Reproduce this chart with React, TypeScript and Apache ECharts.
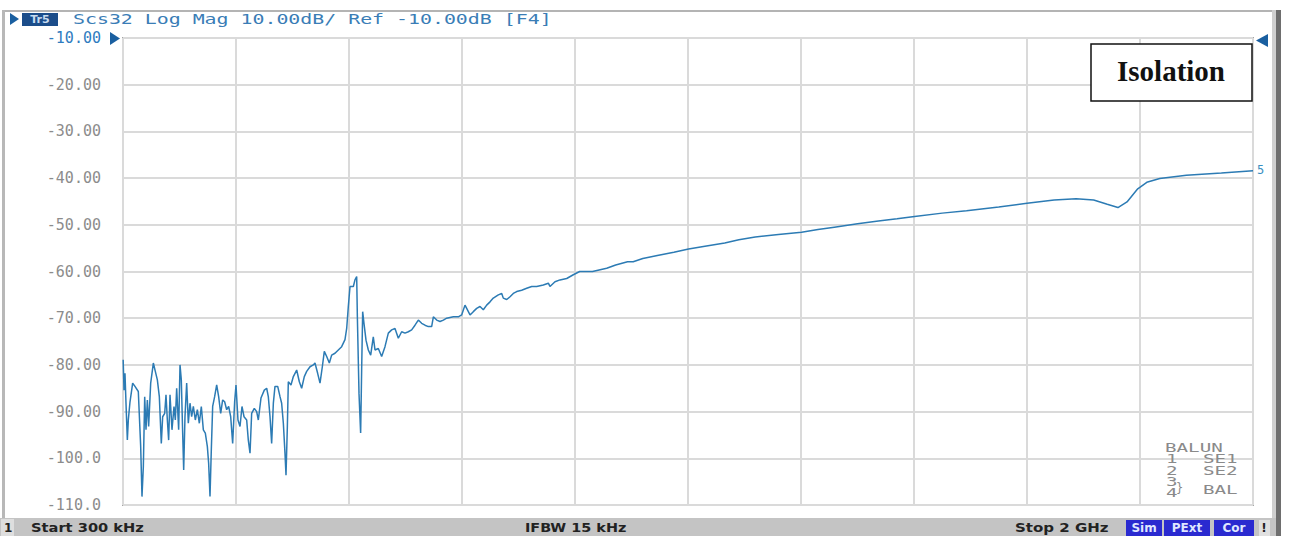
import React, { useEffect, useRef } from "react";
import * as echarts from "echarts";

// Frequency (MHz) and magnitude (dB)
const freqMHz = [
  0.3, 1.8, 3.5, 5.3, 7.7, 9.4, 12.4, 17.1, 21.2, 27.1, 31.3, 33.6, 36.0, 38.4, 40.7, 43.1, 45.4, 49.0, 51.3, 53.7,
  57.2, 60.8, 64.3, 67.8, 70.2, 73.8, 76.1, 78.5, 80.8, 83.2, 86.7, 90.3, 92.6, 95.0, 98.5, 100.9, 103.2, 105.6, 107.4, 109.7,
  112.7, 115.6, 118.6, 121.5, 124.5, 128.0, 131.6, 135.1, 138.6, 142.2, 145.7, 149.3, 151.6, 154.0, 156.3, 158.7, 162.2, 165.8, 169.3, 172.9,
  176.4, 179.9, 183.5, 187.0, 190.6, 194.1, 197.6, 200.0, 203.5, 207.1, 210.6, 214.2, 218.9, 221.8, 224.8, 227.7, 232.4, 236.6, 239.5, 244.2,
  250.1, 254.3, 257.2, 260.2, 263.1, 266.1, 269.0, 273.8, 277.9, 280.8, 283.8, 286.7, 288.5, 290.9, 292.6, 297.3, 301.5, 307.4, 312.1, 316.2,
  320.9, 325.1, 331.0, 336.9, 339.8, 344.5, 348.7, 352.8, 356.3, 360.5, 365.2, 369.3, 375.2, 381.1, 387.0, 392.9, 395.9, 398.8, 401.8, 407.7,
  410.6, 413.6, 414.8, 417.7, 420.6, 422.4, 424.2, 426.5, 430.1, 434.2, 438.4, 443.0, 446.0, 451.9, 457.8, 463.7, 469.6, 475.5, 481.4, 487.3,
  493.2, 499.1, 505.0, 510.9, 516.8, 522.7, 528.6, 534.5, 540.4, 546.3, 549.3, 555.2, 561.1, 567.0, 572.9, 584.7, 593.5, 599.4, 605.3, 608.3,
  614.2, 620.0, 626.0, 631.9, 637.7, 643.7, 649.6, 655.4, 664.3, 670.3, 673.1, 679.1, 685.0, 690.8, 696.8, 705.6, 714.5, 723.4, 732.2, 743.9,
  752.8, 755.7, 764.6, 773.4, 785.3, 797.0, 808.3, 831, 856.1, 872, 893, 903, 920, 948, 975, 1001, 1030, 1065, 1090, 1119,
  1160, 1201, 1230, 1259, 1300, 1337, 1370, 1401, 1450, 1493, 1550, 1600, 1648, 1687, 1718, 1742, 1761, 1777, 1796, 1812,
  1835, 1882, 1944, 2000,
];

const magDb = [
  -78.9, -85.4, -81.8, -88.2, -96.1, -91.8, -87.9, -83.9, -84.6, -85.7, -97.5, -108.2, -101.8, -86.8, -93.9, -87.5, -93.2, -83.9, -81.8, -79.6,
  -81.4, -83.2, -86.8, -96.8, -91.1, -90.4, -86.4, -91.8, -96.1, -86.4, -93.9, -88.9, -91.8, -85.0, -93.9, -80.0, -83.2, -94.6, -102.5, -91.1,
  -83.9, -92.5, -88.2, -91.1, -88.9, -91.8, -89.6, -92.5, -88.9, -93.9, -94.6, -97.5, -101.1, -108.2, -98.2, -88.9, -86.8, -84.3, -86.8, -90.4,
  -87.5, -87.9, -89.6, -88.9, -91.1, -96.8, -87.9, -84.3, -91.8, -93.2, -88.9, -91.1, -91.8, -96.1, -98.9, -90.4, -89.3, -90.0, -91.8, -87.1,
  -85.4, -85.0, -86.8, -91.1, -96.8, -88.2, -84.6, -84.6, -86.8, -88.2, -92.5, -98.9, -103.6, -93.2, -83.6, -84.3, -82.5, -81.1, -83.6, -85.0,
  -82.5, -81.4, -80.4, -80.0, -79.6, -81.8, -83.9, -80.4, -77.1, -78.2, -79.6, -77.9, -77.5, -76.8, -76.1, -74.6, -72.2, -67.5, -63.2, -63.2,
  -61.8, -61.1, -69.7, -86.1, -94.6, -81.1, -68.6, -71.1, -74.7, -76.8, -77.9, -74.0, -76.8, -76.5, -78.2, -76.1, -73.2, -72.5, -72.2, -74.3,
  -72.9, -73.2, -72.9, -72.5, -71.5, -70.4, -71.1, -71.5, -71.8, -71.8, -69.7, -70.4, -70.7, -70.4, -70.0, -69.7, -69.7, -69.3, -67.2, -67.9,
  -69.3, -68.6, -67.9, -67.5, -68.2, -67.2, -66.5, -65.7, -65.0, -64.7, -65.7, -66.0, -65.4, -64.7, -64.3, -64.0, -63.6, -63.2, -63.2, -62.9,
  -62.5, -63.2, -62.2, -61.8, -61.5, -60.7, -60.0, -60.0, -59.3, -58.6, -57.9, -57.9, -57.2, -56.5, -55.9, -55.2, -54.6, -53.9, -53.2, -52.6,
  -52.1, -51.6, -51.0, -50.5, -49.8, -49.2, -48.7, -48.2, -47.5, -47.0, -46.2, -45.4, -44.7, -44.4, -44.7, -45.6, -46.3, -45.1, -42.3, -40.9,
  -40.1, -39.4, -38.9, -38.4,
];

const headerText = "Scs32 Log Mag 10.00dB/ Ref -10.00dB [F4]";
const statusStart = "Start 300 kHz";
const statusIfbw = "IFBW 15 kHz";
const statusStop = "Stop 2 GHz";
const statusFlags = ["Sim", "PExt", "Cor"];
const balunLines = ["BALUN", "1", "SE1", "2", "SE2", "3", "4", "}", "BAL"];
const boxTitle = "Isolation";

const MONO = "'DejaVu Sans Mono', monospace";
const STATUS_FONT = "bold 12px 'DejaVu Sans'";

export default function App() {
  const ref = useRef<HTMLDivElement>(null);

  useEffect(() => {
    document.body.style.margin = "0";
    const chart = echarts.init(ref.current!, null, { renderer: "svg" });

    const flagBoxes = [
      { x: 1126, w: 36 },
      { x: 1164, w: 46 },
      { x: 1214, w: 40 },
    ];

    const graphics: any[] = [
      // outer frame
      { type: "rect", shape: { x: 2, y: 10, width: 1277, height: 2 }, style: { fill: "#b4b4b4" }, z: 10 },
      { type: "rect", shape: { x: 2, y: 10, width: 3, height: 508 }, style: { fill: "#b8b8b8" }, z: 10 },
      { type: "rect", shape: { x: 1272, y: 10, width: 4, height: 526 }, style: { fill: "#cfcfcf" }, z: 10 },
      { type: "rect", shape: { x: 1276, y: 10, width: 5, height: 526 }, style: { fill: "#6e6e6e" }, z: 10 },
      // status bar
      { type: "rect", shape: { x: 0, y: 518, width: 1276, height: 18 }, style: { fill: "#c4c4c4" }, z: 10 },
      { type: "rect", shape: { x: 1, y: 519, width: 13, height: 17 }, style: { fill: "#dedede" }, z: 11 },
      {
        type: "text", x: 4, y: 528, z: 12,
        style: { text: "1", fill: "#222", font: STATUS_FONT, verticalAlign: "middle" },
      },
      {
        type: "text", x: 31, y: 528, z: 12, scaleX: 1.22,
        style: { text: statusStart, fill: "#222", font: STATUS_FONT, verticalAlign: "middle" },
      },
      {
        type: "text", x: 525, y: 528, z: 12, scaleX: 1.2,
        style: { text: statusIfbw, fill: "#222", font: STATUS_FONT, verticalAlign: "middle" },
      },
      {
        type: "text", x: 1015, y: 528, z: 12, scaleX: 1.25,
        style: { text: statusStop, fill: "#222", font: STATUS_FONT, verticalAlign: "middle" },
      },
      { type: "rect", shape: { x: 1259, y: 520, width: 11, height: 16 }, style: { fill: "#e0e0e0" }, z: 11 },
      {
        type: "text", x: 1264, y: 528, z: 12,
        style: { text: "!", fill: "#222", font: STATUS_FONT, align: "center", verticalAlign: "middle" },
      },
      // header
      { type: "polygon", shape: { points: [[10, 13], [10, 25], [19, 19]] }, style: { fill: "#1a5fa0" }, z: 10 },
      { type: "rect", shape: { x: 22, y: 13, width: 36, height: 13 }, style: { fill: "#1b4d8a" }, z: 10 },
      {
        type: "text", x: 40, y: 19.5, z: 11,
        style: { text: "Tr5", fill: "#c8dcf0", font: "bold 11px 'DejaVu Sans'", align: "center", verticalAlign: "middle" },
      },
      {
        type: "text", x: 73, y: 19.5, z: 11, scaleX: 1.42,
        style: { text: headerText, fill: "#3a7db6", font: `14px ${MONO}`, verticalAlign: "middle" },
      },
      // reference markers
      { type: "polygon", shape: { points: [[110, 32], [110, 45], [120, 38.5]] }, style: { fill: "#1a5fa0" }, z: 10 },
      { type: "polygon", shape: { points: [[1268, 34], [1268, 47], [1256, 40.5]] }, style: { fill: "#1a5fa0" }, z: 10 },
      {
        type: "text", x: 1257, y: 170, z: 11,
        style: { text: "5", fill: "#3a8fc2", font: `12px ${MONO}`, verticalAlign: "middle" },
      },
      // Isolation box
      {
        type: "rect", shape: { x: 1091, y: 44, width: 161, height: 57 }, z: 10,
        style: { fill: "#ffffff", stroke: "#111111", lineWidth: 1.5 },
      },
      {
        type: "text", x: 1171, y: 71, z: 11,
        style: {
          text: boxTitle, fill: "#111", font: "bold 29px 'Liberation Serif', serif",
          align: "center", verticalAlign: "middle",
        },
      },
    ];

    const balunPos = [
      [1165, 448], [1166, 459], [1203, 459], [1166, 471], [1203, 471], [1166, 482], [1166, 493], [1176, 488], [1203, 490],
    ];
    balunLines.forEach((t, i) => {
      graphics.push({
        type: "text", x: balunPos[i][0], y: balunPos[i][1], z: 11, scaleX: i === 7 ? 1 : 1.6,
        style: { text: t, fill: "#8a8a8a", font: `12px ${MONO}`, verticalAlign: "middle" },
      });
    });

    statusFlags.forEach((t, i) => {
      const b = flagBoxes[i];
      graphics.push({
        type: "rect", shape: { x: b.x, y: 520, width: b.w, height: 16 }, z: 11,
        style: { fill: "#2a2ad0" },
      });
      graphics.push({
        type: "text", x: b.x + b.w / 2, y: 528, z: 12,
        style: { text: t, fill: "#dfe6ff", font: STATUS_FONT, align: "center", verticalAlign: "middle" },
      });
    });

    chart.setOption({
      animation: false,
      backgroundColor: "#ffffff",
      grid: {
        left: 123, right: 36, top: 38, bottom: 31,
        show: true, borderColor: "#a6a6a6", borderWidth: 2, backgroundColor: "transparent",
      },
      xAxis: {
        type: "value", min: 0, max: 2000, interval: 200,
        axisLine: { show: false }, axisTick: { show: false }, axisLabel: { show: false },
        splitLine: { show: true, lineStyle: { color: "#dadada", width: 2 } },
      },
      yAxis: {
        type: "value", min: -110, max: -10, interval: 10,
        axisLine: { show: false }, axisTick: { show: false },
        axisLabel: {
          margin: 22,
          fontFamily: "DejaVu Sans Mono",
          fontSize: 15,
          color: (v: any) => (Number(v) === -10 ? "#2f7cbf" : "#8c8c8c"),
          formatter: (v: number) => (v <= -100 ? v.toFixed(1) : v.toFixed(2)),
        },
        splitLine: { show: true, lineStyle: { color: "#dadada", width: 2 } },
      },
      series: [
        {
          type: "line",
          data: freqMHz.map((f, i) => [f, magDb[i]]),
          showSymbol: false,
          symbol: "none",
          lineStyle: { color: "#2c7bb4", width: 1.5 },
          z: 5,
        },
      ],
      graphic: graphics,
    });

    return () => chart.dispose();
  }, []);

  return <div ref={ref} style={{ width: 1289, height: 536 }} />;
}
